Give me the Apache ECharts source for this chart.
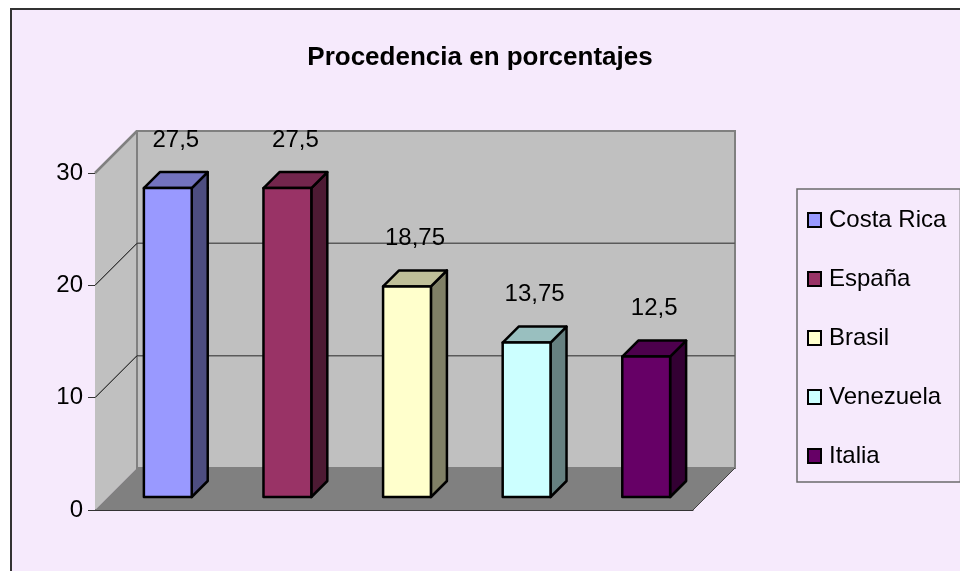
<!DOCTYPE html>
<html>
<head>
<meta charset="utf-8">
<title>Procedencia en porcentajes</title>
<script src="https://cdn.jsdelivr.net/npm/echarts@6/dist/echarts.min.js"></script>
<style>
  html, body { margin: 0; padding: 0; background: #ffffff; }
  #chart { width: 960px; height: 571px; }
</style>
</head>
<body>
<div id="chart"></div>
<script>
// datos
var categories = ['Costa Rica', 'España', 'Brasil', 'Venezuela', 'Italia'];
var values = [27.5, 27.5, 18.75, 13.75, 12.5];
var yTicks = [0, 10, 20, 30];

// colores de Excel (frente); tapa y lado se oscurecen
var frontColors = ['#9999FF', '#993366', '#FFFFCC', '#CCFFFF', '#660066'];

var FONT = "'Liberation Sans', Arial, sans-serif";
var DEPTH = 42;      // profundidad de la caja 3D en px
var BAR_FRONT = 13;  // desplazamiento de la cara frontal de la barra
var BAR_SIDE = 16;   // grosor de la barra en profundidad

function shade(hex, k) {
  var n = parseInt(hex.slice(1), 16);
  var r = Math.round(((n >> 16) & 255) * k);
  var g = Math.round(((n >> 8) & 255) * k);
  var b = Math.round((n & 255) * k);
  return 'rgb(' + r + ',' + g + ',' + b + ')';
}

function fmt(v) {
  return String(v).replace('.', ',');
}

var myChart = echarts.init(document.getElementById('chart'), null, { renderer: 'canvas' });

// paredes, suelo y lineas de division
function renderWalls(params, api) {
  var cs = params.coordSys;
  var x0 = cs.x, x1 = cs.x + cs.width;
  var yBot = api.coord([0, yTicks[0]])[1];
  var yTop = api.coord([0, yTicks[yTicks.length - 1]])[1];
  var d = DEPTH;
  var children = [];

  // pared izquierda
  children.push({
    type: 'polygon',
    shape: { points: [[x0, yBot], [x0, yTop], [x0 + d, yTop - d], [x0 + d, yBot - d]] },
    style: { fill: '#C0C0C0', stroke: null }
  });
  // pared del fondo
  children.push({
    type: 'rect',
    shape: { x: x0 + d, y: yTop - d, width: x1 - x0, height: yBot - yTop },
    style: { fill: '#C0C0C0', stroke: '#808080', lineWidth: 2 }
  });
  // lineas de division
  for (var i = 1; i < yTicks.length - 1; i++) {
    var y = api.coord([0, yTicks[i]])[1];
    children.push({
      type: 'line',
      shape: { x1: x0 + d, y1: y - d, x2: x1 + d, y2: y - d },
      style: { stroke: '#5a5a5a', lineWidth: 1.5 }
    });
    children.push({
      type: 'line',
      shape: { x1: x0, y1: y, x2: x0 + d, y2: y - d },
      style: { stroke: '#000', lineWidth: 1 }
    });
  }
  // borde superior pared izquierda
  children.push({
    type: 'line',
    shape: { x1: x0, y1: yTop, x2: x0 + d, y2: yTop - d },
    style: { stroke: '#808080', lineWidth: 2.5 }
  });
  // suelo
  children.push({
    type: 'polygon',
    shape: { points: [[x0, yBot], [x1, yBot], [x1 + d, yBot - d], [x0 + d, yBot - d]] },
    style: { fill: '#808080', stroke: null }
  });
  children.push({
    type: 'line',
    shape: { x1: x1, y1: yBot, x2: x1 + d, y2: yBot - d },
    style: { stroke: '#404040', lineWidth: 1 }
  });
  return { type: 'group', children: children };
}

// barra 3D con su etiqueta
function makeBarRenderer(idx) {
  var front = frontColors[idx];
  var top = shade(front, 0.75);
  var side = shade(front, 0.5);
  return function (params, api) {
    var pTop = api.coord([api.value(0), api.value(1)]);
    var pBot = api.coord([api.value(0), 0]);
    var bw = api.size([1, 0])[0] * 0.4;
    var f = BAR_FRONT, s = BAR_SIDE;
    var xa = pTop[0] - bw / 2 + f, xb = pTop[0] + bw / 2 + f;
    var yt = pTop[1] - f, yb = pBot[1] - f;
    var line = { stroke: '#000', lineWidth: 2.5, lineJoin: 'round' };
    return {
      type: 'group',
      children: [
        {
          type: 'polygon',
          shape: { points: [[xb, yt], [xb + s, yt - s], [xb + s, yb - s], [xb, yb]] },
          style: Object.assign({ fill: side }, line)
        },
        {
          type: 'polygon',
          shape: { points: [[xa, yt], [xb, yt], [xb + s, yt - s], [xa + s, yt - s]] },
          style: Object.assign({ fill: top }, line)
        },
        {
          type: 'rect',
          shape: { x: xa, y: yt, width: xb - xa, height: yb - yt },
          style: Object.assign({ fill: front }, line)
        },
        {
          type: 'text',
          style: {
            text: fmt(api.value(1)),
            x: pTop[0] + f + s / 2,
            y: yt - 48,
            align: 'center',
            verticalAlign: 'middle',
            fill: '#000',
            font: '24px ' + FONT
          }
        }
      ]
    };
  };
}

var series = [{
  type: 'custom',
  name: 'walls',
  silent: true,
  renderItem: renderWalls,
  data: [[0, 0]],
  z: 1
}];

categories.forEach(function (name, i) {
  series.push({
    type: 'custom',
    name: name,
    renderItem: makeBarRenderer(i),
    data: [[i, values[i]]],
    itemStyle: { color: frontColors[i] },
    z: 3
  });
});

var option = {
  backgroundColor: '#ffffff',
  animation: false,
  graphic: [{
    type: 'rect',
    z: -10,
    shape: { x: 11, y: 9, width: 1000, height: 600 },
    style: { fill: '#F6EAFC', stroke: '#333333', lineWidth: 2 }
  }],
  title: {
    text: 'Procedencia en porcentajes',
    left: 'center',
    top: 40,
    textStyle: { fontFamily: FONT, fontSize: 26, fontWeight: 'bold', color: '#000' }
  },
  legend: {
    orient: 'vertical',
    left: 797,
    top: 189,
    data: categories.map(function (name, i) {
      return { name: name, itemStyle: { color: frontColors[i], borderColor: '#000', borderWidth: 2 } };
    }),
    icon: 'rect',
    itemWidth: 13,
    itemHeight: 14,
    itemGap: 29,
    padding: [16, 14, 11, 10],
    backgroundColor: '#F6EAFC',
    borderColor: '#6b6b6b',
    borderWidth: 1.5,
    borderRadius: 0,
    selectedMode: false,
    textStyle: { fontFamily: FONT, fontSize: 24, lineHeight: 30, color: '#000', padding: [0, 0, 0, 3] }
  },
  grid: { left: 95, right: 267, top: 173, bottom: 61 },
  xAxis: {
    type: 'category',
    data: categories,
    axisLine: { show: true, lineStyle: { color: '#333', width: 1 } },
    axisTick: { show: false },
    axisLabel: { show: false },
    splitLine: { show: false }
  },
  yAxis: {
    type: 'value',
    min: 0,
    max: 30,
    interval: 10,
    axisLine: { show: true, lineStyle: { color: '#333', width: 1 } },
    axisTick: { show: true, length: 7, lineStyle: { color: '#333' } },
    axisLabel: { margin: 12, fontFamily: FONT, fontSize: 24, color: '#000' },
    splitLine: { show: false }
  },
  series: series
};

myChart.setOption(option);
</script>
</body>
</html>
